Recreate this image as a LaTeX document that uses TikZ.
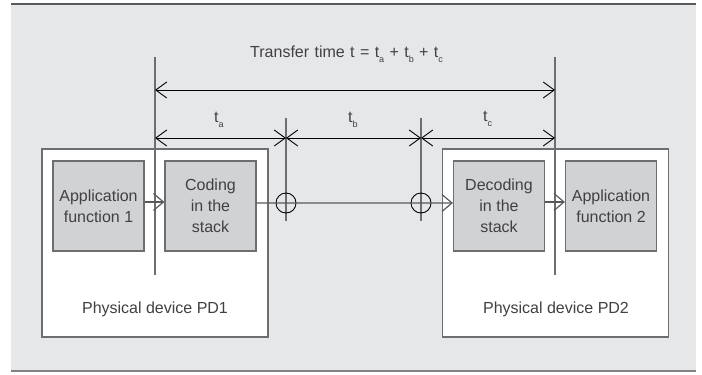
\documentclass[tikz,border=0pt]{standalone}
\usepackage{fontspec}
\setmainfont{Liberation Sans}
\usetikzlibrary{arrows.meta}
\definecolor{bgc}{HTML}{E6E7E8}
\definecolor{topc}{HTML}{58595B}
\definecolor{botc}{HTML}{808285}
\definecolor{boxfill}{HTML}{D1D2D4}
\definecolor{linec}{HTML}{6D6E70}
\definecolor{connc}{HTML}{58595B}
\definecolor{txtc}{HTML}{414042}
\newcommand\mytsub[1]{t\raisebox{-5bp}{\fontsize{9bp}{9bp}\selectfont #1}}
\tikzset{
  devicebox/.style={draw=linec, fill=white, line width=1.2bp, minimum width=226bp, minimum height=188bp, inner sep=0pt},
  funcbox/.style={draw=linec, fill=boxfill, line width=1.2bp, minimum width=91bp, minimum height=90bp, inner sep=0pt, align=center, text=txtc, font=\fontsize{16bp}{21bp}\selectfont},
  lbl/.style={text=txtc, font=\fontsize{16bp}{21bp}\selectfont, inner sep=0pt},
  vline/.style={draw=linec, line width=1.5bp},
  dimarrow/.style={draw=black, line width=0.9bp, {Straight Barb[length=11bp,width=16bp]}-{Straight Barb[length=11bp,width=16bp]}},
  conn/.style={draw=connc, line width=1.2bp, -{Straight Barb[length=10bp,width=17bp]}},
  plainconn/.style={draw=connc, line width=1.2bp},
  joint/.style={circle, draw=black, line width=0.9bp, minimum size=20bp, inner sep=0pt}
}
\begin{document}
\begin{tikzpicture}[x=1bp,y=-1bp]
\useasboundingbox (0,0) rectangle (702,374);
% background
\fill[bgc] (11,3) rectangle (696,371);
\draw[topc, line width=2bp] (11,3.5) -- (696,3.5);
\draw[botc, line width=2bp] (11,370.5) -- (696,370.5);

% devices
\node[devicebox] (pd1) at (155,243) {};
\node[devicebox] (pd2) at (555.5,243) {};
\node[lbl] (pd1l) at (155,309) {Physical device PD1};
\node[lbl] (pd2l) at (556,309) {Physical device PD2};

% function boxes
\node[funcbox] (app1) at (98.5,206) {Application\\function 1};
\node[funcbox] (cod) at (210.5,206) {Coding\\in the\\stack};
\node[funcbox] (dec) at (499,206) {Decoding\\in the\\stack};
\node[funcbox] (app2) at (611,206) {Application\\function 2};

% vertical reference lines
\coordinate (L1t) at (155,57);  \coordinate (L1b) at (155,275);
\coordinate (R1t) at (555,57);  \coordinate (R1b) at (555,275);
\coordinate (M1t) at (286,118); \coordinate (M1b) at (286,221);
\coordinate (M2t) at (421,118); \coordinate (M2b) at (421,221);
\draw[vline] (L1t) -- (L1b);
\draw[vline] (R1t) -- (R1b);
\draw[vline] (M1t) -- (M1b);
\draw[vline] (M2t) -- (M2b);

% connectors
\draw[conn] ([yshift=4bp]app1.east) -- ([yshift=4bp]cod.west);
\node[joint] (c1) at (286,203) {};
\node[joint] (c2) at (421,203) {};
\draw[plainconn] ([yshift=3bp]cod.east) -- (c1.center) -- (c2.center);
\draw[conn] (c2.center) -- ([yshift=3bp]dec.west);
\draw[conn] ([yshift=4bp]dec.east) -- ([yshift=4bp]app2.west);

% dimension arrows
\coordinate (dT1) at (155,90);  \coordinate (dT2) at (555,90);
\coordinate (d1) at (155,138); \coordinate (d2) at (286,138);
\coordinate (d3) at (421,138); \coordinate (d4) at (555,138);
\draw[dimarrow] (dT1) -- (dT2);
\draw[dimarrow] (d1) -- (d2);
\draw[dimarrow] (d2) -- (d3);
\draw[dimarrow] (d3) -- (d4);

% labels
\node[lbl, anchor=base west] (tt) at (250,57) {\spaceskip=5.4bp Transfer time t = \mytsub{a} + \mytsub{b} + \mytsub{c}};
\node[lbl, anchor=base west] (ta) at (214,122) {\mytsub{a}};
\node[lbl, anchor=base west] (tb) at (348,122) {\mytsub{b}};
\node[lbl, anchor=base west] (tc) at (483,121) {\mytsub{c}};
\end{tikzpicture}
\end{document}
